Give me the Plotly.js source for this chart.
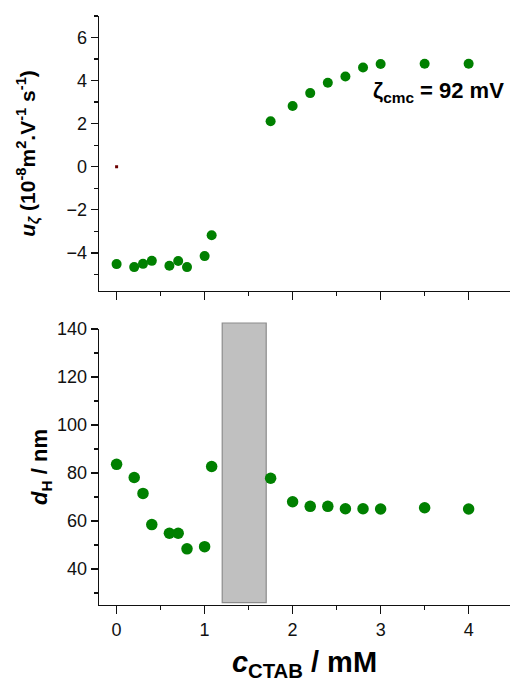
<!DOCTYPE html>
<html>
<head>
<meta charset="utf-8">
<script src="https://cdn.plot.ly/plotly-3.0.1.min.js"></script>
<style>
  html, body { margin: 0; padding: 0; background: #fff; }
  #chart { width: 510px; height: 689px; }
</style>
</head>
<body>
<div id="chart"></div>
<script>
// ---- data ----
const cZeta = [0, 0.2, 0.3, 0.4, 0.6, 0.7, 0.8, 1.0, 1.08, 1.75, 2.0, 2.2, 2.4, 2.6, 2.8, 3.0, 3.5, 4.0];
const uZeta = [-4.52, -4.66, -4.51, -4.37, -4.60, -4.38, -4.66, -4.15, -3.18, 2.11, 2.82, 3.42, 3.90, 4.19, 4.61, 4.77, 4.78, 4.78];
const cSize = [0, 0.2, 0.3, 0.4, 0.6, 0.7, 0.8, 1.0, 1.08, 1.75, 2.0, 2.2, 2.4, 2.6, 2.8, 3.0, 3.5, 4.0];
const dH = [83.6, 78.1, 71.5, 58.5, 54.9, 54.9, 48.4, 49.3, 82.7, 77.8, 68.0, 66.1, 66.1, 65.1, 65.1, 65.0, 65.5, 65.0];
const refX = [0];
const refY = [0];
const cmcBandX = [1.2, 1.7];
const cmcBandY = [26, 142.5];
const zetaCmcLabel = "ζ<sub>cmc</sub> = 92 mV";
const xTicks = [0, 1, 2, 3, 4];
const uTicks = [-4, -2, 0, 2, 4, 6];
const dTicks = [40, 60, 80, 100, 120, 140];

const xRange = [-0.2, 4.47];
const uRange = [-5.77, 7];
const dRange = [25, 140];

const green = '#008000';
const axisCol = '#111';
const font = 'Liberation Sans, Arial, sans-serif';

const traces = [
  { x: refX, y: refY, xaxis: 'x', yaxis: 'y', mode: 'markers', type: 'scatter',
    marker: { color: '#6b0000', size: 3, symbol: 'square' }, hoverinfo: 'skip' },
  { x: cZeta, y: uZeta, xaxis: 'x', yaxis: 'y', mode: 'markers', type: 'scatter',
    marker: { color: green, size: 10 } },
  { x: cSize, y: dH, xaxis: 'x2', yaxis: 'y2', mode: 'markers', type: 'scatter',
    marker: { color: green, size: 11.5 } }
];

function frac(v, r) { return (v - r[0]) / (r[1] - r[0]); }

const commonAxis = {
  showline: true, linecolor: axisCol, linewidth: 1.3,
  ticks: 'outside', tickcolor: axisCol, tickwidth: 1.3,
  showgrid: false, zeroline: false,
  tickfont: { family: font, size: 18, color: '#111' },
  mirror: false
};

const layout = {
  width: 510, height: 689,
  margin: { l: 99, r: 0, t: 16, b: 84 },
  paper_bgcolor: '#fff', plot_bgcolor: '#fff',
  showlegend: false,
  font: { family: font, color: '#000' },
  xaxis: Object.assign({}, commonAxis, {
    domain: [0, 1], anchor: 'y', range: xRange,
    tickvals: xTicks, showticklabels: false, ticklen: 8,
    minor: { dtick: 0.5, tick0: 0, ticks: 'outside', ticklen: 4, tickcolor: axisCol, tickwidth: 1.3 }
  }),
  yaxis: Object.assign({}, commonAxis, {
    domain: [0.5331, 1], anchor: 'x', range: uRange,
    tickvals: uTicks, ticklen: 7,
    minor: { dtick: 1, tick0: 0, ticks: 'outside', ticklen: 4, tickcolor: axisCol, tickwidth: 1.3 },
    title: { text: '<b><i>u</i><sub><i>ζ</i></sub> (10<sup>-8</sup>m<sup>2</sup>.V<sup>-1</sup> s<sup>-1</sup>)</b>',
             font: { family: font, size: 21, color: '#000' }, standoff: 25 }
  }),
  xaxis2: Object.assign({}, commonAxis, {
    domain: [0, 1], anchor: 'y2', range: xRange,
    tickvals: xTicks, ticktext: xTicks.map(String), ticklen: 8,
    minor: { dtick: 0.5, tick0: 0, ticks: 'outside', ticklen: 4, tickcolor: axisCol, tickwidth: 1.3 },
    title: { text: '<b><i>c</i><sub>CTAB</sub> / mM</b>',
             font: { family: font, size: 29, color: '#000' }, standoff: 12 }
  }),
  yaxis2: Object.assign({}, commonAxis, {
    domain: [0, 0.4686], anchor: 'x2', range: dRange,
    tickvals: dTicks, ticklen: 7,
    minor: { dtick: 10, tick0: 0, ticks: 'outside', ticklen: 4, tickcolor: axisCol, tickwidth: 1.3 },
    title: { text: '<b><i>d</i><sub>H</sub> / nm</b>',
             font: { family: font, size: 22, color: '#000' }, standoff: 3 }
  }),
  shapes: [{
    type: 'rect', layer: 'below',
    xref: 'x2 domain', yref: 'y2 domain',
    x0: frac(cmcBandX[0], xRange), x1: frac(cmcBandX[1], xRange),
    y0: frac(cmcBandY[0], dRange), y1: frac(cmcBandY[1], dRange),
    fillcolor: '#c0c0c0', line: { color: '#8c8c8c', width: 1.2 }
  }],
  annotations: [{
    text: '<b>' + zetaCmcLabel + '</b>', xref: 'x', yref: 'y',
    x: 4.43, y: 3.45, xanchor: 'right', yanchor: 'middle', showarrow: false,
    font: { family: font, size: 22, color: '#000' }
  }]
};

Plotly.newPlot('chart', traces, layout, { staticPlot: true, displayModeBar: false });
</script>
</body>
</html>
